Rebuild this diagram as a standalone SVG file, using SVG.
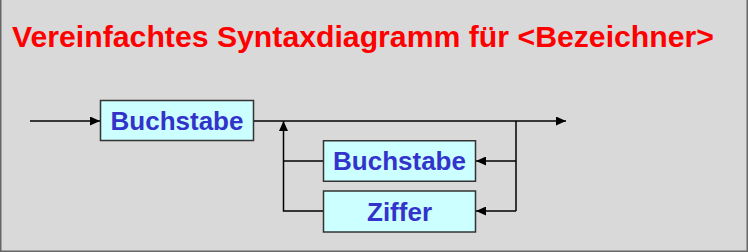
<svg xmlns="http://www.w3.org/2000/svg" width="748" height="252" viewBox="0 0 748 252">
  <defs>
    <marker id="arrow" viewBox="0 0 10 9" refX="10" refY="4.5" markerWidth="10" markerHeight="9" markerUnits="userSpaceOnUse" orient="auto">
      <path d="M0,0 L10,4.5 L0,9 Z" fill="#000"/>
    </marker>
    <style>
      .title { font-family: "Liberation Sans", Arial, sans-serif; font-weight: bold; font-size: 30.3px; fill: #ff0000; }
      .box rect { fill: #ccffff; stroke: #333333; stroke-width: 1.5; }
      .box text { font-family: "Liberation Sans", Arial, sans-serif; font-weight: bold; font-size: 26px; fill: #3333cc; text-anchor: middle; }
      .conn { fill: none; stroke: #000; stroke-width: 1.5; }
    </style>
  </defs>

  <!-- background and frame -->
  <rect x="0" y="0" width="748" height="252" fill="#d9d9d9"/>
  <path d="M0.75,0 V251.25 H747.25 V0" fill="none" stroke="#666666" stroke-width="1.5"/>

  <text class="title" x="12" y="47" textLength="702" lengthAdjust="spacingAndGlyphs">Vereinfachtes Syntaxdiagramm für &lt;Bezeichner&gt;</text>

  <!-- connectors -->
  <g id="connectors">
    <path class="conn" d="M30,121 H100" marker-end="url(#arrow)"/>
    <path class="conn" d="M253.5,121 H566" marker-end="url(#arrow)"/>
    <path class="conn" d="M516,121 V211"/>
    <path class="conn" d="M516,161 H476" marker-end="url(#arrow)"/>
    <path class="conn" d="M516,211 H476" marker-end="url(#arrow)"/>
    <path class="conn" d="M323,161 H283.5"/>
    <path class="conn" d="M323,211 H283.5 V121" marker-end="url(#arrow)"/>
  </g>

  <!-- nodes -->
  <g id="buchstabe1" class="box">
    <rect x="100.5" y="100.5" width="153" height="40"/>
    <text x="177" y="129.5">Buchstabe</text>
  </g>
  <g id="buchstabe2" class="box">
    <rect x="323.5" y="140.75" width="152" height="40.5"/>
    <text x="399.5" y="170.3">Buchstabe</text>
  </g>
  <g id="ziffer" class="box">
    <rect x="323.5" y="191" width="152" height="41"/>
    <text x="399.5" y="220.7">Ziffer</text>
  </g>
</svg>
